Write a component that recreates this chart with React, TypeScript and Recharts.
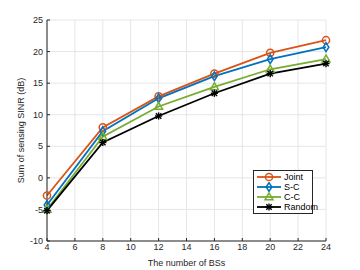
import { LineChart, Line, XAxis, YAxis, CartesianGrid } from "recharts";

const bsCount = [4, 8, 12, 16, 20, 24];
const joint = [-2.8, 8.0, 12.9, 16.5, 19.8, 21.8];
const sc = [-4.3, 7.4, 12.6, 16.1, 18.8, 20.7];
const cc = [-5.0, 6.5, 11.3, 14.4, 17.2, 18.8];
const random = [-5.2, 5.6, 9.8, 13.4, 16.5, 18.1];
const xTicks = [4, 6, 8, 10, 12, 14, 16, 18, 20, 22, 24];
const yTicks = [-10, -5, 0, 5, 10, 15, 20, 25];

const data = bsCount.map((n, i) => ({
  n,
  joint: joint[i],
  sc: sc[i],
  cc: cc[i],
  random: random[i],
}));

const FONT = "'Liberation Sans', Arial, sans-serif";
const AXIS = "#262626";

type Shape = "circle" | "diamond" | "triangle" | "star";

function Marker({ cx, cy, color, shape }: { cx: number; cy: number; color: string; shape: Shape }) {
  if (cx == null || cy == null) return null;
  const s = 3.6;
  if (shape === "circle") {
    return <circle cx={cx} cy={cy} r={s} fill="none" stroke={color} strokeWidth={1.5} />;
  }
  if (shape === "diamond") {
    const p = `${cx},${cy - s - 0.8} ${cx + s - 0.8},${cy} ${cx},${cy + s + 0.8} ${cx - s + 0.8},${cy}`;
    return <polygon points={p} fill="none" stroke={color} strokeWidth={1.5} />;
  }
  if (shape === "triangle") {
    const p = `${cx},${cy - s - 0.6} ${cx + s + 0.4},${cy + s - 0.8} ${cx - s - 0.4},${cy + s - 0.8}`;
    return <polygon points={p} fill="none" stroke={color} strokeWidth={1.5} />;
  }
  const d = s * 0.75;
  return (
    <g stroke={color} strokeWidth={1.4}>
      <line x1={cx - d} y1={cy - d} x2={cx + d} y2={cy + d} />
      <line x1={cx - d} y1={cy + d} x2={cx + d} y2={cy - d} />
      <line x1={cx} y1={cy - s} x2={cx} y2={cy + s} />
      <line x1={cx - s} y1={cy} x2={cx + s} y2={cy} />
    </g>
  );
}

const series: { key: string; name: string; color: string; shape: Shape }[] = [
  { key: "joint", name: "Joint", color: "#D95319", shape: "circle" },
  { key: "sc", name: "S-C", color: "#0072BD", shape: "diamond" },
  { key: "cc", name: "C-C", color: "#77AC30", shape: "triangle" },
  { key: "random", name: "Random", color: "#000000", shape: "star" },
];

function LegendBox() {
  return (
    <div
      style={{
        position: "absolute",
        left: 253,
        top: 170,
        width: 60,
        boxSizing: "border-box",
        background: "#fff",
        border: "1px solid #262626",
        padding: "1px 2px",
        fontFamily: FONT,
        fontSize: 9,
        color: "#000",
        lineHeight: "10px",
      }}
    >
      {series.map((s) => (
        <div key={s.key} style={{ display: "flex", alignItems: "center", height: 10 }}>
          <svg width={26} height={10} style={{ marginRight: 2, flex: "none" }}>
            <line x1={1} y1={5} x2={25} y2={5} stroke={s.color} strokeWidth={1.8} />
            <Marker cx={13} cy={5} color={s.color} shape={s.shape} />
          </svg>
          <span>{s.name}</span>
        </div>
      ))}
    </div>
  );
}

export default function App() {
  return (
    <div style={{ position: "absolute", left: 0, top: 0, width: 360, height: 270, background: "#fff" }}>
      <LineChart width={360} height={270} data={data} margin={{ top: 20, right: 34, bottom: 0, left: 0 }}>
        <CartesianGrid stroke="#e6e6e6" />
        <XAxis
          dataKey="n"
          type="number"
          domain={[4, 24]}
          ticks={xTicks}
          height={29}
          stroke={AXIS}
          tickSize={-3}
          tickMargin={6}
          tick={{ fill: AXIS, fontSize: 9, fontFamily: FONT }}
          label={{ value: "The number of BSs", position: "insideBottom", offset: 4, fill: AXIS, fontSize: 9, fontFamily: FONT }}
        />
        <XAxis
          xAxisId="top"
          dataKey="n"
          type="number"
          orientation="top"
          domain={[4, 24]}
          ticks={xTicks}
          height={0}
          stroke={AXIS}
          tickSize={-3}
          tick={false}
        />
        <YAxis
          type="number"
          domain={[-10, 25]}
          ticks={yTicks}
          width={47}
          stroke={AXIS}
          tickSize={-3}
          tickMargin={7}
          tick={{ fill: AXIS, fontSize: 9, fontFamily: FONT }}
          label={{
            value: "Sum of sensing SINR (dB)",
            angle: -90,
            position: "insideLeft",
            offset: 21,
            fill: AXIS,
            fontSize: 9,
            fontFamily: FONT,
            style: { textAnchor: "middle" },
          }}
        />
        <YAxis
          yAxisId="right"
          orientation="right"
          type="number"
          domain={[-10, 25]}
          ticks={yTicks}
          width={0}
          stroke={AXIS}
          tickSize={-3}
          tick={false}
        />
        {series.map((s) => (
          <Line
            key={s.key}
            dataKey={s.key}
            name={s.name}
            stroke={s.color}
            strokeWidth={1.8}
            isAnimationActive={false}
            dot={(p: any) => <Marker key={`${s.key}-${p.index}`} cx={p.cx} cy={p.cy} color={s.color} shape={s.shape} />}
          />
        ))}
      </LineChart>
      <LegendBox />
    </div>
  );
}
